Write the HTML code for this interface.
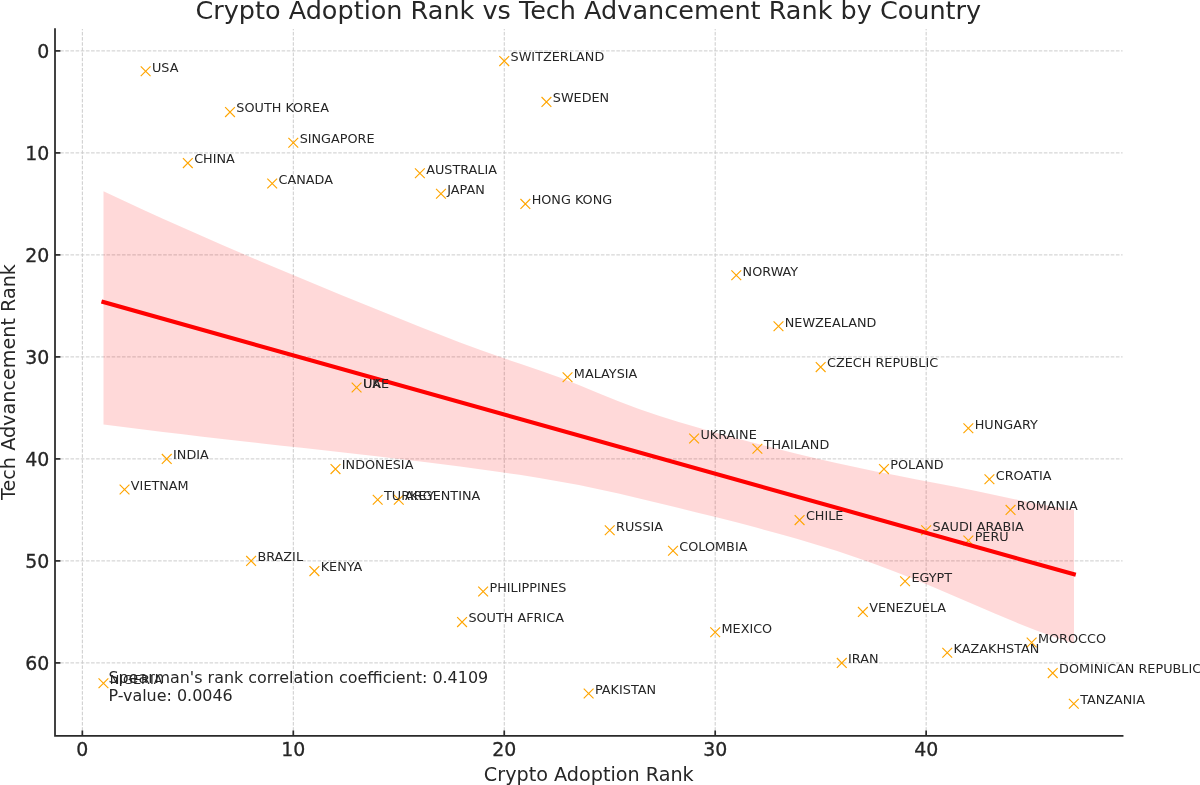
<!DOCTYPE html>
<html lang="en"><head><meta charset="utf-8"><title>Crypto Adoption Rank vs Tech Advancement Rank by Country</title>
<style>
html,body{margin:0;padding:0;background:#fff;}
body{width:1200px;height:785px;overflow:hidden;}
svg{display:block;will-change:transform;opacity:0.999;font-family:"DejaVu Sans","Liberation Sans",sans-serif;}
.g{stroke:#cccccc;stroke-width:1;stroke-dasharray:3.6 1.55;fill:none}
.m{stroke:#ffa500;stroke-width:1.15;fill:none}
.t{fill:#262626}
.tl{stroke:#262626;stroke-width:0.3}
.sp{stroke:#2a2a2a;stroke-width:1.75;fill:none;stroke-linecap:square}
.tk{stroke:#2a2a2a;stroke-width:1.7;fill:none}
</style></head><body>
<svg width="1200" height="785" viewBox="0 0 1200 785">
<rect width="1200" height="785" fill="#ffffff"/>
<g class="g">
<line x1="82.35" y1="735.9" x2="82.35" y2="29.0"/>
<line x1="293.30" y1="735.9" x2="293.30" y2="29.0"/>
<line x1="504.25" y1="735.9" x2="504.25" y2="29.0"/>
<line x1="715.20" y1="735.9" x2="715.20" y2="29.0"/>
<line x1="926.15" y1="735.9" x2="926.15" y2="29.0"/>
<line x1="55.0" y1="50.90" x2="1122.6" y2="50.90"/>
<line x1="55.0" y1="152.90" x2="1122.6" y2="152.90"/>
<line x1="55.0" y1="254.90" x2="1122.6" y2="254.90"/>
<line x1="55.0" y1="356.90" x2="1122.6" y2="356.90"/>
<line x1="55.0" y1="458.90" x2="1122.6" y2="458.90"/>
<line x1="55.0" y1="560.90" x2="1122.6" y2="560.90"/>
<line x1="55.0" y1="662.90" x2="1122.6" y2="662.90"/>
</g>
<polygon fill="#ff0000" fill-opacity="0.15" points="103.50,191.20 123.31,200.54 143.11,209.72 162.92,218.74 182.72,227.62 202.53,236.37 222.34,244.99 242.14,253.51 261.95,261.93 281.76,270.27 301.56,278.53 321.37,286.73 341.17,294.88 360.98,302.99 380.79,311.06 400.59,319.09 420.40,327.02 440.20,334.81 460.01,342.40 479.82,349.75 499.62,356.81 519.43,363.56 539.23,370.26 559.04,377.28 578.85,384.96 598.65,393.14 618.46,401.21 638.27,408.66 658.07,415.46 677.88,421.73 697.68,427.60 717.49,433.18 737.30,438.55 757.10,443.76 776.91,448.84 796.71,453.76 816.52,458.51 836.33,463.04 856.13,467.35 875.94,471.43 895.74,475.34 915.55,479.17 935.36,482.97 955.16,486.82 974.97,490.78 994.78,494.91 1014.58,499.13 1034.39,503.19 1054.19,506.81 1074.00,509.74 1074.00,643.61 1054.19,637.05 1034.39,629.73 1014.58,621.83 994.78,613.53 974.97,605.01 955.16,596.43 935.36,587.95 915.55,579.74 895.74,571.89 875.94,564.45 856.13,557.45 836.33,550.87 816.52,544.66 796.71,538.77 776.91,533.17 757.10,527.80 737.30,522.62 717.49,517.59 697.68,512.67 677.88,507.79 658.07,502.95 638.27,498.17 618.46,493.55 598.65,489.16 578.85,485.09 559.04,481.38 539.23,477.99 519.43,474.87 499.62,471.97 479.82,469.23 460.01,466.61 440.20,464.07 420.40,461.61 400.59,459.21 380.79,456.87 360.98,454.58 341.17,452.32 321.37,450.08 301.56,447.87 281.76,445.66 261.95,443.44 242.14,441.22 222.34,438.97 202.53,436.69 182.72,434.37 162.92,431.99 143.11,429.56 123.31,427.05 103.50,424.47"/>
<g class="m">
<path d="M140.73 66.40L150.53 76.20M140.73 76.20L150.53 66.40"/>
<path d="M225.11 107.20L234.91 117.00M225.11 117.00L234.91 107.20"/>
<path d="M288.40 137.80L298.20 147.60M288.40 147.60L298.20 137.80"/>
<path d="M182.92 158.20L192.72 168.00M182.92 168.00L192.72 158.20"/>
<path d="M267.31 178.60L277.10 188.40M267.31 188.40L277.10 178.60"/>
<path d="M414.97 168.40L424.77 178.20M414.97 178.20L424.77 168.40"/>
<path d="M436.07 188.80L445.87 198.60M436.07 198.60L445.87 188.80"/>
<path d="M520.45 199.00L530.25 208.80M520.45 208.80L530.25 199.00"/>
<path d="M499.35 56.20L509.15 66.00M499.35 66.00L509.15 56.20"/>
<path d="M541.54 97.00L551.34 106.80M541.54 106.80L551.34 97.00"/>
<path d="M731.39 270.40L741.19 280.20M731.39 280.20L741.19 270.40"/>
<path d="M773.59 321.40L783.38 331.20M773.59 331.20L783.38 321.40"/>
<path d="M815.77 362.20L825.57 372.00M815.77 372.00L825.57 362.20"/>
<path d="M562.63 372.40L572.43 382.20M562.63 382.20L572.43 372.40"/>
<path d="M351.69 382.60L361.49 392.40M351.69 392.40L361.49 382.60"/>
<path d="M963.44 423.40L973.24 433.20M963.44 433.20L973.24 423.40"/>
<path d="M689.21 433.60L699.00 443.40M689.21 443.40L699.00 433.60"/>
<path d="M752.49 443.80L762.29 453.60M752.49 453.60L762.29 443.80"/>
<path d="M161.83 454.00L171.63 463.80M161.83 463.80L171.63 454.00"/>
<path d="M330.59 464.20L340.39 474.00M330.59 474.00L340.39 464.20"/>
<path d="M879.06 464.20L888.86 474.00M879.06 474.00L888.86 464.20"/>
<path d="M984.53 474.40L994.33 484.20M984.53 484.20L994.33 474.40"/>
<path d="M119.64 484.60L129.44 494.40M119.64 494.40L129.44 484.60"/>
<path d="M372.78 494.80L382.58 504.60M372.78 504.60L382.58 494.80"/>
<path d="M393.88 494.80L403.67 504.60M393.88 504.60L403.67 494.80"/>
<path d="M1005.63 505.00L1015.43 514.80M1005.63 514.80L1015.43 505.00"/>
<path d="M794.68 515.20L804.48 525.00M794.68 525.00L804.48 515.20"/>
<path d="M604.83 525.40L614.62 535.20M604.83 535.20L614.62 525.40"/>
<path d="M921.25 525.40L931.05 535.20M921.25 535.20L931.05 525.40"/>
<path d="M963.44 535.60L973.24 545.40M963.44 545.40L973.24 535.60"/>
<path d="M668.11 545.80L677.91 555.60M668.11 555.60L677.91 545.80"/>
<path d="M246.21 556.00L256.01 565.80M246.21 565.80L256.01 556.00"/>
<path d="M309.50 566.20L319.29 576.00M309.50 576.00L319.29 566.20"/>
<path d="M900.15 576.40L909.95 586.20M900.15 586.20L909.95 576.40"/>
<path d="M478.25 586.60L488.05 596.40M478.25 596.40L488.05 586.60"/>
<path d="M857.97 607.00L867.76 616.80M857.97 616.80L867.76 607.00"/>
<path d="M457.16 617.20L466.96 627.00M457.16 627.00L466.96 617.20"/>
<path d="M710.30 627.40L720.10 637.20M710.30 637.20L720.10 627.40"/>
<path d="M1026.72 637.60L1036.53 647.40M1026.72 647.40L1036.53 637.60"/>
<path d="M942.35 647.80L952.14 657.60M942.35 657.60L952.14 647.80"/>
<path d="M836.87 658.00L846.67 667.80M836.87 667.80L846.67 658.00"/>
<path d="M1047.82 668.20L1057.62 678.00M1047.82 678.00L1057.62 668.20"/>
<path d="M98.54 678.40L108.34 688.20M98.54 688.20L108.34 678.40"/>
<path d="M583.73 688.60L593.53 698.40M583.73 698.40L593.53 688.60"/>
<path d="M1068.91 698.80L1078.71 708.60M1068.91 708.60L1078.71 698.80"/>
</g>
<line x1="103.44" y1="302.02" x2="1073.81" y2="574.27" stroke="#ff0000" stroke-width="4.1" stroke-linecap="square"/>
<path class="sp" d="M55.0 29.0L55.0 735.9L1122.6 735.9"/>
<g class="tk">
<line x1="82.35" y1="735.9" x2="82.35" y2="730.5"/>
<line x1="293.30" y1="735.9" x2="293.30" y2="730.5"/>
<line x1="504.25" y1="735.9" x2="504.25" y2="730.5"/>
<line x1="715.20" y1="735.9" x2="715.20" y2="730.5"/>
<line x1="926.15" y1="735.9" x2="926.15" y2="730.5"/>
<line x1="55.0" y1="50.90" x2="60.4" y2="50.90"/>
<line x1="55.0" y1="152.90" x2="60.4" y2="152.90"/>
<line x1="55.0" y1="254.90" x2="60.4" y2="254.90"/>
<line x1="55.0" y1="356.90" x2="60.4" y2="356.90"/>
<line x1="55.0" y1="458.90" x2="60.4" y2="458.90"/>
<line x1="55.0" y1="560.90" x2="60.4" y2="560.90"/>
<line x1="55.0" y1="662.90" x2="60.4" y2="662.90"/>
</g>
<g class="t tl" font-size="18.9">
<text x="82.35" y="756.1" text-anchor="middle">0</text>
<text x="293.30" y="756.1" text-anchor="middle">10</text>
<text x="504.25" y="756.1" text-anchor="middle">20</text>
<text x="715.20" y="756.1" text-anchor="middle">30</text>
<text x="926.15" y="756.1" text-anchor="middle">40</text>
<text x="49.2" y="58.10" text-anchor="end">0</text>
<text x="49.2" y="160.10" text-anchor="end">10</text>
<text x="49.2" y="262.10" text-anchor="end">20</text>
<text x="49.2" y="364.10" text-anchor="end">30</text>
<text x="49.2" y="466.10" text-anchor="end">40</text>
<text x="49.2" y="568.10" text-anchor="end">50</text>
<text x="49.2" y="670.10" text-anchor="end">60</text>
</g>
<g class="t" font-size="12.8">
<text x="151.96" y="71.55">USA</text>
<text x="236.34" y="112.35">SOUTH KOREA</text>
<text x="299.63" y="142.95">SINGAPORE</text>
<text x="194.15" y="163.35">CHINA</text>
<text x="278.53" y="183.75">CANADA</text>
<text x="426.20" y="173.55">AUSTRALIA</text>
<text x="447.29" y="193.95">JAPAN</text>
<text x="531.67" y="204.15">HONG KONG</text>
<text x="510.58" y="61.35">SWITZERLAND</text>
<text x="552.77" y="102.15">SWEDEN</text>
<text x="742.62" y="275.55">NORWAY</text>
<text x="784.81" y="326.55">NEWZEALAND</text>
<text x="827.00" y="367.35">CZECH REPUBLIC</text>
<text x="573.86" y="377.55">MALAYSIA</text>
<text x="362.91" y="387.75">UAE</text>
<text x="362.91" y="387.75">UK</text>
<text x="974.67" y="428.55">HUNGARY</text>
<text x="700.43" y="438.75">UKRAINE</text>
<text x="763.72" y="448.95">THAILAND</text>
<text x="173.06" y="459.15">INDIA</text>
<text x="341.82" y="469.35">INDONESIA</text>
<text x="890.29" y="469.35">POLAND</text>
<text x="995.76" y="479.55">CROATIA</text>
<text x="130.87" y="489.75">VIETNAM</text>
<text x="384.01" y="499.95">TURKEY</text>
<text x="405.10" y="499.95">ARGENTINA</text>
<text x="1016.86" y="510.15">ROMANIA</text>
<text x="805.91" y="520.35">CHILE</text>
<text x="616.05" y="530.55">RUSSIA</text>
<text x="932.48" y="530.55">SAUDI ARABIA</text>
<text x="974.67" y="540.75">PERU</text>
<text x="679.34" y="550.95">COLOMBIA</text>
<text x="257.44" y="561.15">BRAZIL</text>
<text x="320.72" y="571.35">KENYA</text>
<text x="911.38" y="581.55">EGYPT</text>
<text x="489.48" y="591.75">PHILIPPINES</text>
<text x="869.19" y="612.15">VENEZUELA</text>
<text x="468.39" y="622.35">SOUTH AFRICA</text>
<text x="721.53" y="632.55">MEXICO</text>
<text x="1037.95" y="642.75">MOROCCO</text>
<text x="953.57" y="652.95">KAZAKHSTAN</text>
<text x="848.10" y="663.15">IRAN</text>
<text x="1059.05" y="673.35">DOMINICAN REPUBLIC</text>
<text x="109.77" y="683.55">NIGERIA</text>
<text x="594.96" y="693.75">PAKISTAN</text>
<text x="1080.14" y="703.95">TANZANIA</text>
</g>
<g class="t" font-size="15.95"><text x="108.4" y="683">Spearman&#39;s rank correlation coefficient: 0.4109</text><text x="108.4" y="700.6">P-value: 0.0046</text></g>
<text class="t" font-size="19.2" x="588.8" y="780.9" text-anchor="middle">Crypto Adoption Rank</text>
<text class="t" font-size="19.2" transform="translate(14.7,382) rotate(-90)" text-anchor="middle">Tech Advancement Rank</text>
<text class="t" font-size="25.5" x="588.3" y="19.3" text-anchor="middle">Crypto Adoption Rank vs Tech Advancement Rank by Country</text>
</svg></body></html>
